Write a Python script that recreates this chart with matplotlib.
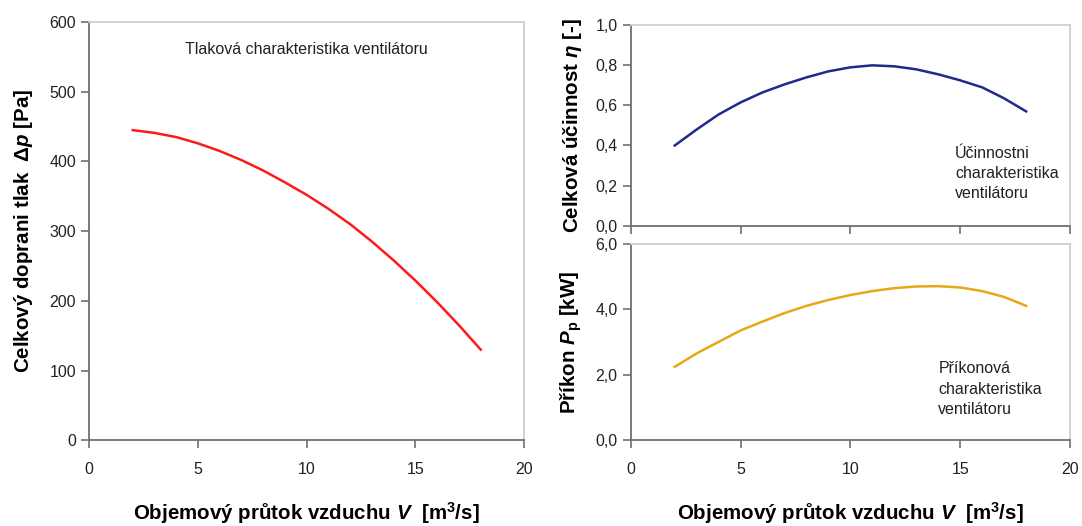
import matplotlib
matplotlib.use('Agg')
import matplotlib.pyplot as plt

plt.rcParams['font.family'] = ['Liberation Sans', 'DejaVu Sans']
plt.rcParams['mathtext.fontset'] = 'custom'
plt.rcParams['mathtext.rm'] = 'Liberation Sans:bold'
plt.rcParams['mathtext.it'] = 'Liberation Sans:italic:bold'
plt.rcParams['mathtext.bf'] = 'Liberation Sans:bold'

# flow rate [m3/s]
q = [2, 3, 4, 5, 6, 7, 8, 9, 10, 11, 12, 13, 14, 15, 16, 17, 18]
# total pressure [Pa]
dp = [445, 441, 435, 426, 415, 402, 387, 370, 352, 332, 310, 285, 258, 229, 198, 165, 130]
# efficiency [-]
eta = [0.40, 0.48, 0.555, 0.615, 0.665, 0.705, 0.74, 0.77, 0.79, 0.80, 0.795,
       0.78, 0.755, 0.725, 0.69, 0.635, 0.57]
# power input [kW]
power = [2.24, 2.65, 3.0, 3.35, 3.62, 3.88, 4.1, 4.28, 4.43, 4.55, 4.64,
         4.69, 4.70, 4.66, 4.55, 4.37, 4.10]

x_ticks = [0, 5, 10, 15, 20]
dp_ticks = [0, 100, 200, 300, 400, 500, 600]
eta_ticks = [0.0, 0.2, 0.4, 0.6, 0.8, 1.0]
eta_labels = ['0,0', '0,2', '0,4', '0,6', '0,8', '1,0']
p_ticks = [0.0, 2.0, 4.0, 6.0]
p_labels = ['0,0', '2,0', '4,0', '6,0']

xlabel = r'Objemový průtok vzduchu $\mathit{V}$  [m$^{\mathregular{3}}$/s]'
LABEL_SIZE = 14.8
NOTE_SIZE = 11.5


def style_axes(ax):
    ax.spines['left'].set_color('#707070')
    ax.spines['bottom'].set_color('#707070')
    ax.spines['top'].set_color('#d8cccc')
    ax.spines['right'].set_color('#d8cccc')
    for s in ax.spines.values():
        s.set_linewidth(1.3)
    ax.tick_params(direction='out', length=6, width=1.2, color='#707070',
                   labelsize=11.5, labelcolor='#222222')
    ax.tick_params(axis='x', pad=10)
    ax.set_xlim(0, 20)
    ax.set_xticks(x_ticks)


fig = plt.figure(figsize=(10.82, 5.26), dpi=100)

ax1 = fig.add_axes([0.0825, 0.163, 0.402, 0.795])
ax1.plot(q, dp, color='#ff1a1a', linewidth=1.8)
style_axes(ax1)
ax1.set_ylim(0, 600)
ax1.set_yticks(dp_ticks)
ax1.set_ylabel(r'Celkový doprani tlak  Δ$\mathit{p}$ [Pa]', fontsize=LABEL_SIZE,
               fontweight='bold', labelpad=10)
ax1.set_xlabel(xlabel, fontsize=LABEL_SIZE, fontweight='bold', labelpad=16)
ax1.text(0.5, 0.935, 'Tlaková charakteristika ventilátoru', transform=ax1.transAxes,
         ha='center', va='center', fontsize=NOTE_SIZE, color='#222222')

ax2 = fig.add_axes([0.583, 0.571, 0.406, 0.381])
ax2.plot(q, eta, color='#1f2a8a', linewidth=1.8)
style_axes(ax2)
ax2.set_ylim(0, 1.0)
ax2.set_yticks(eta_ticks)
ax2.set_yticklabels(eta_labels)
ax2.set_xticklabels([])
ax2.set_ylabel(r'Celková účinnost $\mathit{η}$ [-]', fontsize=LABEL_SIZE,
               fontweight='bold', labelpad=8)
ax2.text(0.738, 0.26, 'Účinnostni\ncharakteristika\nventilátoru', transform=ax2.transAxes,
         ha='left', va='center', fontsize=NOTE_SIZE, color='#222222', linespacing=1.45)

ax3 = fig.add_axes([0.583, 0.163, 0.406, 0.374])
ax3.plot(q, power, color='#e6a817', linewidth=1.8)
style_axes(ax3)
ax3.set_ylim(0, 6.0)
ax3.set_yticks(p_ticks)
ax3.set_yticklabels(p_labels)
ax3.set_ylabel(r'Příkon $\mathit{P}_{\mathregular{p}}$ [kW]', fontsize=LABEL_SIZE,
               fontweight='bold', labelpad=8)
ax3.set_xlabel(xlabel, fontsize=LABEL_SIZE, fontweight='bold', labelpad=16)
ax3.text(0.70, 0.26, 'Příkonová\ncharakteristika\nventilátoru', transform=ax3.transAxes,
         ha='left', va='center', fontsize=NOTE_SIZE, color='#222222', linespacing=1.45)

fig.savefig('out.png', dpi=100)
